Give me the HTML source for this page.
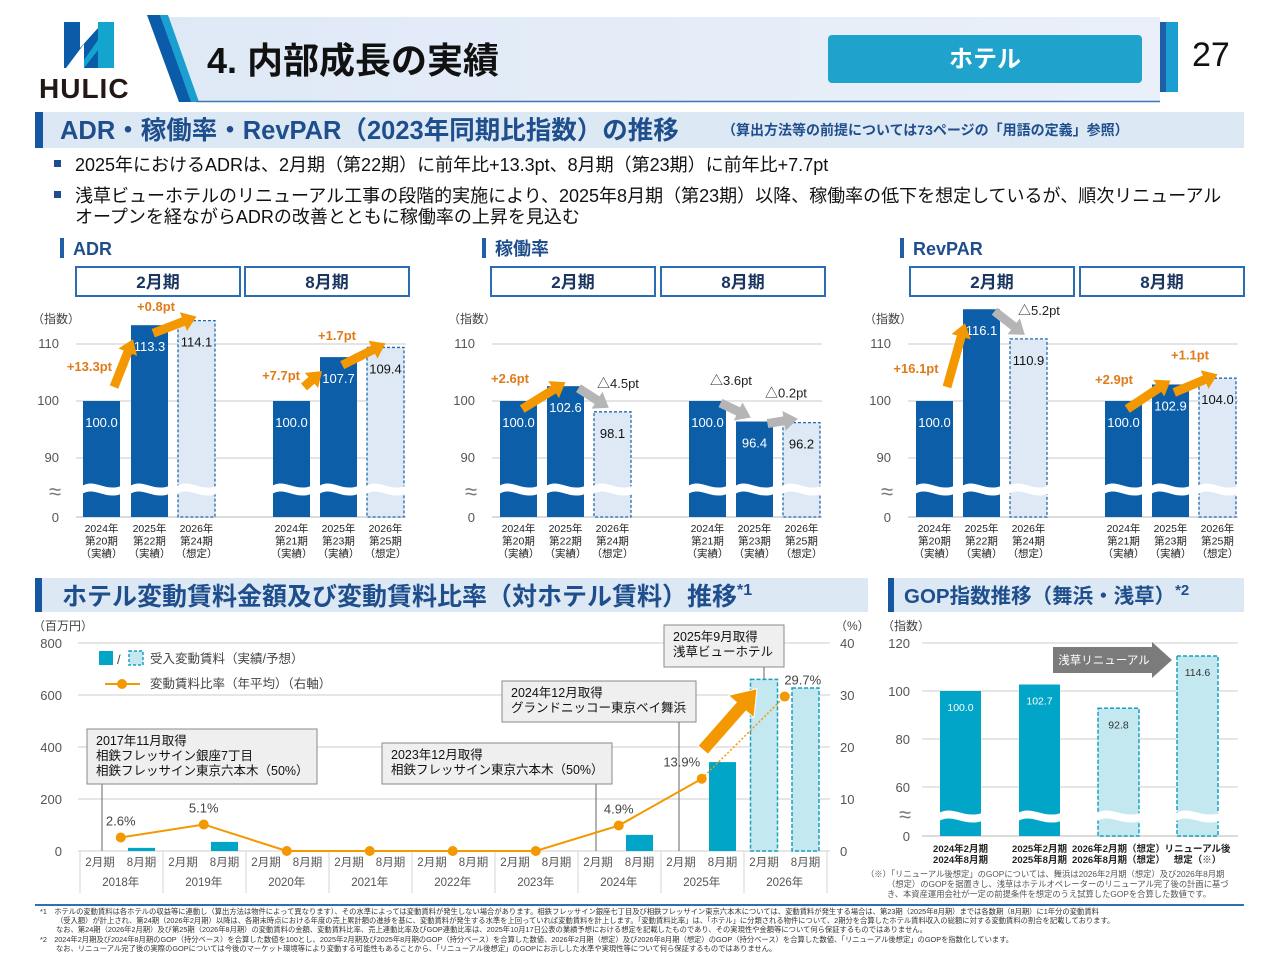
<!DOCTYPE html>
<html lang="ja"><head><meta charset="utf-8"><title>4. 内部成長の実績</title>
<style>
html,body{margin:0;padding:0;background:#fff}
body{width:1280px;height:960px;overflow:hidden;font-family:"Liberation Sans","Noto Sans CJK JP",sans-serif}
svg text{font-family:"Liberation Sans","Noto Sans CJK JP",sans-serif}
</style></head>
<body>
<svg id="page" xmlns="http://www.w3.org/2000/svg" width="1280" height="960" viewBox="0 0 1280 960">
<defs>
<linearGradient id="hdrg" x1="0" x2="1" y1="0" y2="0"><stop offset="0" stop-color="#dfe9f6"/><stop offset="1" stop-color="#e9f0f9"/></linearGradient>
</defs>
<g>
<polygon points="160,17 1160,17 1160,102 196,102" fill="url(#hdrg)"/>
<polygon points="147,15 160,15 192,102 179,102" fill="#0b5ba8"/>
<polygon points="160,15 168,15 199,102 191,102" fill="#1a9fd0"/>
<line x1="196" y1="101.5" x2="1160" y2="101.5" stroke="#3a78b8" stroke-width="1.5"/>
<g>
<polygon points="64,22 80,22 80,48 98,28 98,68 84,68 84,44 66,68 64,68" fill="#0b5ba8"/>
<polygon points="98,22 114,22 114,68 98,68 98,50 84,68 84,60 98,40" fill="#14a5cf"/>
<text x="39" y="98" font-size="28" font-weight="bold" fill="#231815" letter-spacing="1">HULIC</text>
</g>
<text x="207" y="73" font-size="36" font-weight="bold" fill="#111">4. 内部成長の実績</text>
<rect x="828" y="35" width="314" height="48" rx="4" fill="#1fa3cc"/>
<text x="985" y="67" font-size="24" font-weight="bold" fill="#fff" text-anchor="middle">ホテル</text>
<rect x="1160" y="22" width="6" height="70" fill="#1f5fa8"/>
<rect x="1166" y="22" width="12" height="70" fill="#1a9fd0"/>
<text x="1192" y="66" font-size="34" fill="#111">27</text>
</g>
<g>
<rect x="35" y="112" width="1209" height="36" fill="#dde8f5"/>
<rect x="35" y="112" width="8" height="36" fill="#1557a0"/>
<text x="60" y="139" font-size="25.5" font-weight="bold" fill="#1f4e8c">ADR・稼働率・RevPAR（2023年同期比指数）の推移</text>
<text x="722" y="135" font-size="14" font-weight="bold" fill="#1f4e8c">（算出方法等の前提については73ページの「用語の定義」参照）</text>
</g>
<g font-size="18" fill="#111">
<rect x="54" y="160" width="7" height="7" fill="#1f4e8c"/>
<text x="75" y="171">2025年におけるADRは、2月期（第22期）に前年比+13.3pt、8月期（第23期）に前年比+7.7pt</text>
<rect x="54" y="191" width="7" height="7" fill="#1f4e8c"/>
<text x="75" y="202">浅草ビューホテルのリニューアル工事の段階的実施により、2025年8月期（第23期）以降、稼働率の低下を想定しているが、順次リニューアル</text>
<text x="75" y="223">オープンを経ながらADRの改善とともに稼働率の上昇を見込む</text>
</g>
<g id="topcharts"></g>
<g>
<rect x="35" y="578" width="833" height="34" fill="#dde8f5"/>
<rect x="35" y="578" width="7" height="34" fill="#1557a0"/>
<text x="62" y="605" font-size="25" font-weight="bold" fill="#1f4e8c">ホテル変動賃料金額及び変動賃料比率（対ホテル賃料）推移<tspan font-size="16" dy="-10">*1</tspan></text>
</g>
<g>
<rect x="888" y="578" width="356" height="34" fill="#dde8f5"/>
<rect x="888" y="578" width="6" height="34" fill="#1557a0"/>
<text x="904" y="603" font-size="20.5" font-weight="bold" fill="#1f4e8c">GOP指数推移（舞浜・浅草）<tspan font-size="15" dy="-8">*2</tspan></text>
</g>
<g id="rentchart"></g>
<g id="gopchart"></g>
<g font-size="7.3" fill="#333">
<line x1="35" y1="905" x2="1244" y2="905" stroke="#2f6fb3" stroke-width="2"/>
<text x="40" y="914">*1　ホテルの変動賃料は各ホテルの収益等に連動し（算出方法は物件によって異なります）、その水準によっては変動賃料が発生しない場合があります。相鉄フレッサイン銀座七丁目及び相鉄フレッサイン東京六本木については、変動賃料が発生する場合は、第23期（2025年8月期）までは各数期（8月期）に1年分の変動賃料</text>
<text x="56" y="923">（受入額）が計上され、第24期（2026年2月期）以降は、各期末時点における年度の売上累計額の進捗を基に、変動賃料が発生する水準を上回っていれば変動賃料を計上します。「変動賃料比率」は、「ホテル」に分類される物件について、2期分を合算したホテル賃料収入の総額に対する変動賃料の割合を記載しております。</text>
<text x="56" y="932">なお、第24期（2026年2月期）及び第25期（2026年8月期）の変動賃料の金額、変動賃料比率、売上連動比率及びGOP連動比率は、2025年10月17日公表の業績予想における想定を記載したものであり、その実現性や金額等について何ら保証するものではありません。</text>
<text x="40" y="942">*2　2024年2月期及び2024年8月期のGOP（持分ベース）を合算した数値を100とし、2025年2月期及び2025年8月期のGOP（持分ベース）を合算した数値、2026年2月期（想定）及び2026年8月期（想定）のGOP（持分ベース）を合算した数値、「リニューアル後想定」のGOPを指数化しています。</text>
<text x="56" y="951">なお、リニューアル完了後の実際のGOPについては今後のマーケット環境等により変動する可能性もあることから、「リニューアル後想定」のGOPにお示しした水準や実現性等について何ら保証するものではありません。</text>
</g>
</svg>
<script>
const kpiYears = ['2024年','2025年','2026年','2024年','2025年','2026年'];
const kpiStatus = ['（実績）','（実績）','（想定）','（実績）','（実績）','（想定）'];
const kpiPeriodsA = ['第20期','第22期','第24期','第21期','第23期','第25期'];
const adrValues = [100.0, 113.3, 114.1, 100.0, 107.7, 109.4];
const occValues = [100.0, 102.6, 98.1, 100.0, 96.4, 96.2];
const revparValues = [100.0, 116.1, 110.9, 100.0, 102.9, 104.0];
const kpiForecast = [false, false, true, false, false, true];
const kpiTicks = [110, 100, 90];

const rentPeriods = ['2月期','8月期','2月期','8月期','2月期','8月期','2月期','8月期','2月期','8月期','2月期','8月期','2月期','8月期','2月期','8月期','2月期','8月期'];
const rentYears = ['2018年','2019年','2020年','2021年','2022年','2023年','2024年','2025年','2026年'];
const rentValues = [0, 12, 0, 35, 0, 0, 0, 0, 0, 0, 0, 0, 0, 62, 0, 342, 660, 627];
const rentForecast = [false,false,false,false,false,false,false,false,false,false,false,false,false,false,false,false,true,true];
const ratioValues = [2.6, 5.1, 0, 0, 0, 0, 4.9, 13.9, 29.7];
const rentTicksLeft = [0, 200, 400, 600, 800];
const rentTicksRight = [0, 10, 20, 30, 40];

const gopValues = [100.0, 102.7, 92.8, 114.6];
const gopForecast = [false, false, true, true];
const gopLabels1 = ['2024年2月期','2025年2月期','2026年2月期（想定）','リニューアル後'];
const gopLabels2 = ['2024年8月期','2025年8月期','2026年8月期（想定）','想定（※）'];
const gopTicks = [120, 100, 80, 60];

const NS = 'http://www.w3.org/2000/svg';
function mk(tag, attrs, parent) {
  const e = document.createElementNS(NS, tag);
  for (const k in attrs) e.setAttribute(k, attrs[k]);
  parent.appendChild(e);
  return e;
}
function txt(str, attrs, parent) {
  const t = mk('text', attrs, parent);
  t.textContent = str;
  return t;
}
function arrowPts(x1, y1, x2, y2, w, hl, hw) {
  const dx = x2 - x1, dy = y2 - y1, L = Math.hypot(dx, dy) || 1;
  const ux = dx / L, uy = dy / L, nx = -uy, ny = ux;
  const bx = x2 - ux * hl, by = y2 - uy * hl;
  const p = [
    [x1 + nx * w / 2, y1 + ny * w / 2], [bx + nx * w / 2, by + ny * w / 2], [bx + nx * hw / 2, by + ny * hw / 2],
    [x2, y2],
    [bx - nx * hw / 2, by - ny * hw / 2], [bx - nx * w / 2, by - ny * w / 2], [x1 - nx * w / 2, y1 - ny * w / 2]
  ];
  return p.map(q => q[0].toFixed(1) + ',' + q[1].toFixed(1)).join(' ');
}
function wave(x, w, y) {
  return 'M' + (x - 1) + ',' + (y + 2) + ' C' + (x + w * 0.3) + ',' + (y - 6) + ' ' + (x + w * 0.6) + ',' + (y + 8) + ' ' + (x + w + 1) + ',' + (y + 2) +
    ' L' + (x + w + 1) + ',' + (y + 10) + ' C' + (x + w * 0.6) + ',' + (y + 16) + ' ' + (x + w * 0.3) + ',' + (y + 2) + ' ' + (x - 1) + ',' + (y + 10) + ' Z';
}

const topRoot = document.getElementById('topcharts');
const kY = v => 401 - (v - 100) * 5.7;
const kBase = 517;
const panels = [
  { key: 'adr', title: 'ADR', tx: 60, axisX: 62, box1: 76, box2: 245, bx: [83,131,178,273,320,367], vals: adrValues,
    ann: [[29,-30,'end'],[25,-14,'middle'],null,[27,-21,'end'],[17,-17,'middle']] },
  { key: 'occupancy', title: '稼働率', tx: 482, axisX: 478, box1: 491, box2: 661, bx: [500,547,594,689,736,783], vals: occValues,
    ann: [[10,-18,'middle'],[50,2,'start'],null,[21,-16,'start'],[29,-24,'start']] },
  { key: 'revpar', title: 'RevPAR', tx: 900, axisX: 894, box1: 910, box2: 1080, bx: [916,963,1010,1105,1152,1199], vals: revparValues,
    ann: [[0,-28,'middle'],[55,6,'start'],null,[9,-17,'middle'],[38,-25,'middle']] }
];
const bw = 37;
panels.forEach(p => {
  const g = mk('g', {}, topRoot);
  
  
  mk('rect', { x: p.tx, y: 238, width: 4, height: 20, fill: '#1f5fa8' }, g);
  const tt = txt(p.title, { x: p.tx + 13, y: 255, 'font-size': 18, 'font-weight': 'bold', fill: '#1f4e8c' }, g);
  
  
  [[p.box1, '2月期'], [p.box2, '8月期']].forEach(b => {
    const r = mk('rect', { x: b[0], y: 267, width: 164, height: 29, fill: '#fff', stroke: '#2a6db5', 'stroke-width': 2 }, g);
    
    
    txt(b[1], { x: b[0] + 82, y: 288, 'font-size': 17, 'font-weight': 'bold', fill: '#1a3560', 'text-anchor': 'middle' }, g);
  });
  txt('（指数）', { x: p.axisX - 30, y: 323, 'font-size': 12, fill: '#444' }, g);
  kpiTicks.forEach(t => {
    mk('line', { x1: p.axisX + 14, x2: p.bx[5] + bw + 2, y1: kY(t), y2: kY(t), stroke: '#dcdcdc', 'stroke-width': 1.5 }, g);
    const tl = txt(String(t), { x: p.axisX - 3, y: kY(t) + 4, 'font-size': 13, fill: '#555', 'text-anchor': 'end' }, g);
    
    
  });
  mk('line', { x1: p.axisX + 14, x2: p.bx[5] + bw + 2, y1: kBase, y2: kBase, stroke: '#cfcfcf', 'stroke-width': 1.5 }, g);
  txt('0', { x: p.axisX - 3, y: kBase + 5, 'font-size': 13, fill: '#555', 'text-anchor': 'end' }, g);
  txt('≈', { x: p.axisX - 7, y: 499, 'font-size': 22, fill: '#777', 'text-anchor': 'middle' }, g);
  p.vals.forEach((v, i) => {
    const x = p.bx[i], y = kY(v), fc = kpiForecast[i];
    const bar = mk('rect', { x: x, y: y, width: bw, height: kBase - y, fill: fc ? '#dfe9f6' : '#0c5ea8',
      stroke: fc ? '#1e6bb0' : 'none', 'stroke-width': fc ? 1.3 : 0, 'stroke-dasharray': fc ? '3,2' : '' }, g);
    
    
    mk('path', { d: wave(x, bw, 484), fill: '#fff' }, g);
    const vl = txt(v.toFixed(1), { x: x + bw / 2, y: y + 26, 'font-size': 13, fill: fc ? '#111' : '#fff', 'text-anchor': 'middle' }, g);
    
    
    const labs = [kpiYears[i], kpiPeriodsA[i], kpiStatus[i]];
    labs.forEach((s, j) => txt(s, { x: x + bw / 2, y: 532 + j * 12.5, 'font-size': 10.5, fill: '#222', 'text-anchor': 'middle' }, g));
  });
  [0, 1, 3, 4].forEach(i => {
    const v0 = p.vals[i], v1 = p.vals[i + 1], d = Math.round((v1 - v0) * 10) / 10;
    const x0 = p.bx[i], y0 = kY(v0), x1 = p.bx[i + 1], y1 = kY(v1);
    let a;
    if (d < 0) a = [x0 + bw * 0.85, y0 + 2, x1 + bw * 0.4, y1 - 4];
    else if (i % 3 === 0 && d > 5) a = [x0 + bw - 6, y0 - 14, x1 + 2, y1 + 14];
    else a = [x0 + bw * 0.6, y0 + 8, x1 + bw * 0.5, y1 - 4];
    const col = d < 0 ? '#b5b5b5' : '#f39800';
    const ar = mk('polygon', { points: arrowPts(a[0], a[1], a[2], a[3], 9, 14, 20), fill: col }, g);
    
    
    const an = p.ann[i];
    const lbl = (d < 0 ? '△' : '+') + Math.abs(d).toFixed(1) + 'pt';
    const lt = txt(lbl, { x: x0 + an[0], y: y0 + an[1], 'font-size': 13, 'font-weight': d < 0 ? 'normal' : 'bold',
      fill: d < 0 ? '#222' : '#e07b1a', 'text-anchor': an[2] }, g);
    
    
  });
});

const rc = document.getElementById('rentchart');
const rY = v => 851 - v * 0.26;
const pY = v => 851 - v * 5.2;
const xP = i => 100 + 41.5 * i;
const xYr = k => 120.75 + 83 * k;
txt('（百万円）', { x: 33, y: 630, 'font-size': 12, fill: '#444' }, rc);
txt('（%）', { x: 835, y: 630, 'font-size': 12, fill: '#444' }, rc);
rentTicksLeft.forEach(t => {
  mk('line', { x1: 78, x2: 830, y1: rY(t), y2: rY(t), stroke: '#dedede', 'stroke-width': 1.5 }, rc);
  const l = txt(String(t), { x: 62, y: rY(t) + 5, 'font-size': 13, fill: '#555', 'text-anchor': 'end' }, rc);
  
  
});
rentTicksRight.forEach(t => {
  const l = txt(String(t), { x: 840, y: pY(t) + 5, 'font-size': 13, fill: '#555' }, rc);
  
  
});
for (let k = 0; k <= rentYears.length; k++) {
  mk('line', { x1: 80 + 83 * k, x2: 80 + 83 * k, y1: 851, y2: 893, stroke: '#d5d5d5', 'stroke-width': 1 }, rc);
}
rentPeriods.forEach((s, i) => {
  const l = txt(s, { x: xP(i), y: 866, 'font-size': 11.5, fill: '#555', 'text-anchor': 'middle' }, rc);
  
  
});
rentYears.forEach((s, k) => {
  const l = txt(s, { x: xYr(k), y: 886, 'font-size': 11.5, fill: '#555', 'text-anchor': 'middle' }, rc);
  
  
});
const callouts = [
  { x: 87, y: 729, w: 230, h: 55, lx: 102, ly2: 851, lines: ['2017年11月取得', '相鉄フレッサイン銀座7丁目', '相鉄フレッサイン東京六本木（50%）'] },
  { x: 382, y: 743, w: 230, h: 41, lx: 596, ly2: 851, lines: ['2023年12月取得', '相鉄フレッサイン東京六本木（50%）'] },
  { x: 502, y: 681, w: 194, h: 41, lx: 679, ly2: 851, lines: ['2024年12月取得', 'グランドニッコー東京ベイ舞浜'] },
  { x: 664, y: 625, w: 120, h: 42, lx: 764, ly2: 679, lines: ['2025年9月取得', '浅草ビューホテル'] }
];
callouts.forEach(c => {
  mk('line', { x1: c.lx, x2: c.lx, y1: c.y + c.h, y2: c.ly2, stroke: '#666', 'stroke-width': 1 }, rc);
});
rentValues.forEach((v, i) => {
  if (v <= 0) return;
  const fc = rentForecast[i], y = rY(v);
  const b = mk('rect', { x: xP(i) - 13.5, y: y, width: 27, height: 851 - y, fill: fc ? '#c4e8f0' : '#00a5c8',
    stroke: fc ? '#1aa0c0' : 'none', 'stroke-width': fc ? 1.5 : 0, 'stroke-dasharray': fc ? '4,2' : '' }, rc);
  
  
});
callouts.forEach((c, ci) => {
  const r = mk('rect', { x: c.x, y: c.y, width: c.w, height: c.h, fill: '#efefef', stroke: '#8a8a8a', 'stroke-width': 1 }, rc);
  
  
  c.lines.forEach((s, j) => txt(s, { x: c.x + 9, y: c.y + 16 + j * 15, 'font-size': 12.5, fill: '#111' }, rc));
});
const lastY = pY(ratioValues[ratioValues.length - 1]);
const ba = mk('polygon', { points: arrowPts(703, 750, 757, lastY - 8, 13, 24, 34), fill: '#f39800', stroke: '#fff', 'stroke-width': 1 }, rc);


let dSolid = '', n = ratioValues.length;
ratioValues.forEach((v, k) => { if (k < n - 1) dSolid += (k ? 'L' : 'M') + xYr(k) + ',' + pY(v) + ' '; });
const rl = mk('path', { d: dSolid, fill: 'none', stroke: '#f39800', 'stroke-width': 2 }, rc);


const rd = mk('line', { x1: xYr(n - 2), y1: pY(ratioValues[n - 2]), x2: xYr(n - 1), y2: pY(ratioValues[n - 1]), stroke: '#f39800', 'stroke-width': 1.5, 'stroke-dasharray': '2,2' }, rc);


ratioValues.forEach((v, k) => {
  const c = mk('circle', { cx: xYr(k), cy: pY(v), r: 5, fill: '#f39800' }, rc);
  
  
  if (v > 0) {
    const dx = k === n - 2 ? -20 : (k === n - 1 ? 18 : 0);
    const l = txt(v.toFixed(1) + '%', { x: xYr(k) + dx, y: pY(v) - 12, 'font-size': 13, fill: '#444', 'text-anchor': 'middle' }, rc);
    
    
  }
});
const lg = mk('g', {}, rc);


mk('rect', { x: 99, y: 651, width: 14, height: 14, fill: '#00a5c8' }, lg);
txt('/', { x: 117, y: 664, 'font-size': 13, fill: '#444' }, lg);
mk('rect', { x: 129, y: 651, width: 14, height: 14, fill: '#c4e8f0', stroke: '#1aa0c0', 'stroke-width': 1.5, 'stroke-dasharray': '3,2' }, lg);
txt('受入変動賃料（実績/予想）', { x: 150, y: 663, 'font-size': 12.5, fill: '#444' }, lg);
mk('line', { x1: 105, x2: 140, y1: 684, y2: 684, stroke: '#f39800', 'stroke-width': 2 }, lg);
mk('circle', { cx: 122, cy: 684, r: 5, fill: '#f39800' }, lg);
txt('変動賃料比率（年平均）（右軸）', { x: 150, y: 688, 'font-size': 12.5, fill: '#444' }, lg);

const gc = document.getElementById('gopchart');
const gY = v => 691 - (v - 100) * 2.4;
const gBase = 836;
const gX = [940, 1019, 1098, 1177];
txt('（指数）', { x: 882, y: 630, 'font-size': 12, fill: '#444' }, gc);
gopTicks.forEach(t => {
  mk('line', { x1: 922, x2: 1238, y1: gY(t), y2: gY(t), stroke: '#dedede', 'stroke-width': 1.5 }, gc);
  const l = txt(String(t), { x: 910, y: gY(t) + 5, 'font-size': 13, fill: '#555', 'text-anchor': 'end' }, gc);
  
  
});
mk('line', { x1: 922, x2: 1238, y1: gBase, y2: gBase, stroke: '#cfcfcf', 'stroke-width': 1.5 }, gc);
txt('0', { x: 910, y: gBase + 5, 'font-size': 13, fill: '#555', 'text-anchor': 'end' }, gc);
txt('≈', { x: 905, y: 822, 'font-size': 22, fill: '#777', 'text-anchor': 'middle' }, gc);
gopValues.forEach((v, i) => {
  const fc = gopForecast[i], x = gX[i], y = gY(v);
  const b = mk('rect', { x: x, y: y, width: 41, height: gBase - y, fill: fc ? '#c4e8f0' : '#00a5c8',
    stroke: fc ? '#1aa0c0' : 'none', 'stroke-width': fc ? 1.5 : 0, 'stroke-dasharray': fc ? '4,2' : '' }, gc);
  
  
  mk('path', { d: wave(x, 41, 811), fill: '#fff' }, gc);
  const l = txt(v.toFixed(1), { x: x + 20.5, y: y + 20, 'font-size': 10.5, fill: fc ? '#333' : '#fff', 'text-anchor': 'middle' }, gc);
  
  
  txt(gopLabels1[i], { x: x + 20.5, y: 852, 'font-size': 9.5, 'font-weight': 'bold', fill: '#222', 'text-anchor': 'middle' }, gc);
  txt(gopLabels2[i], { x: x + 20.5, y: 863, 'font-size': 9.5, 'font-weight': 'bold', fill: '#222', 'text-anchor': 'middle' }, gc);
});
const ga = mk('polygon', { points: '1053,647 1152,647 1152,642 1172,660 1152,678 1152,673 1053,673', fill: '#7b7b7b' }, gc);


txt('浅草リニューアル', { x: 1104, y: 664, 'font-size': 11.5, fill: '#fff', 'text-anchor': 'middle' }, gc);
const gn = mk('g', {}, gc);


txt('（※）「リニューアル後想定」のGOPについては、舞浜は2026年2月期（想定）及び2026年8月期', { x: 866, y: 877, 'font-size': 8.3, fill: '#555' }, gn);
txt('（想定）のGOPを据置きし、浅草はホテルオペレーターのリニューアル完了後の計画に基づ', { x: 887, y: 887, 'font-size': 8.3, fill: '#555' }, gn);
txt('き、本資産運用会社が一定の前提条件を想定のうえ試算したGOPを合算した数値です。', { x: 887, y: 897, 'font-size': 8.3, fill: '#555' }, gn);
</script>
</body></html>
